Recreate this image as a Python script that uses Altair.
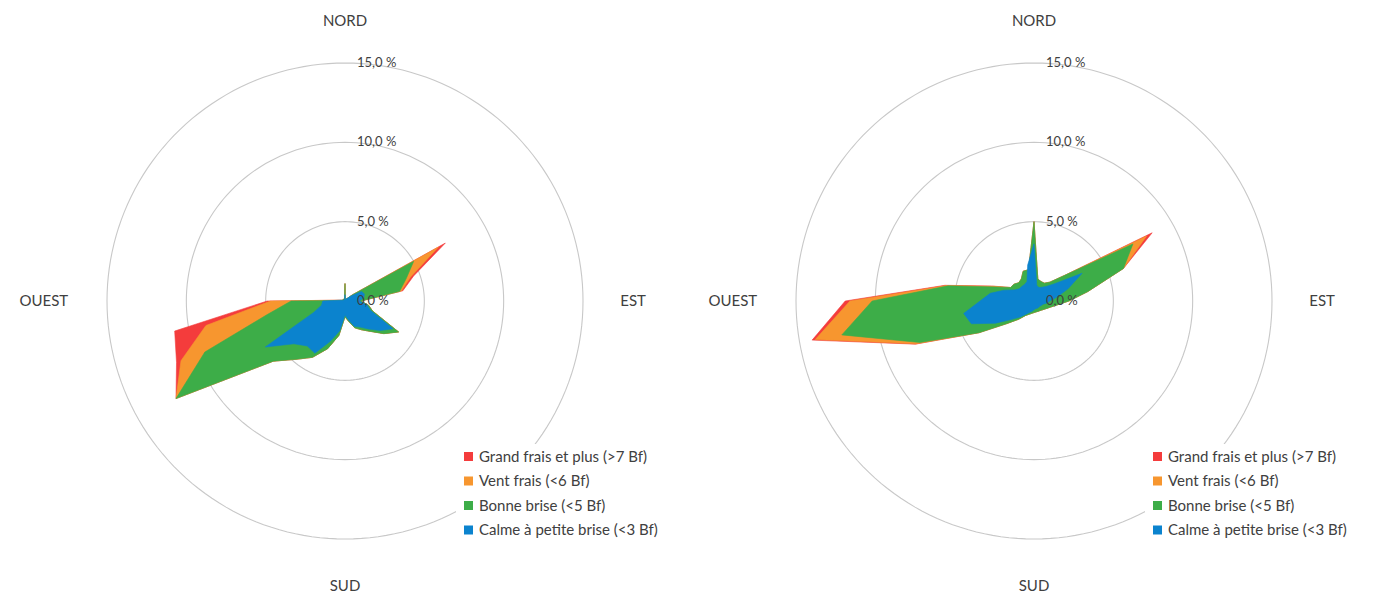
import altair as alt
import pandas as pd

# ---------------- data (cumulative values as plotted, %) ----------------
angles = list(range(0, 360, 10))  # 0 = Nord, clockwise

series_names = [
    "Grand frais et plus (>7 Bf)",
    "Vent frais (<6 Bf)",
    "Bonne brise (<5 Bf)",
    "Calme à petite brise (<3 Bf)",
]
series_colors = ["#F43C3C", "#F7962F", "#3DAD48", "#0B83CE"]

# left rose
left_calme = [0.4, 0.1, 0.1, 0.15, 0.2, 0.5, 1.2, 1.3, 1.2, 0.9, 1.4, 1.7,
              3.5, 2.9, 2.3, 1.9, 1.7, 1.2, 0.9, 1.9, 2.7, 3.8, 3.7, 4.2,
              5.8, 2.1, 1.5, 1.4, 0.3, 0.15, 0.1, 0.1, 0.1, 0.1, 0.1, 0.15]
left_bonne = [1.1, 0.1, 0.1, 0.15, 0.2, 0.6, 5.0, 4.1, 3.5, 1.0, 1.5, 1.85,
              3.9, 3.2, 2.5, 2.1, 1.8, 1.3, 1.0, 2.2, 3.2, 4.1, 4.8, 5.9,
              12.3, 9.4, 5.0, 3.4, 0.2, 0.15, 0.15, 0.15, 0.15, 0.15, 0.15, 0.15]
left_vent = [1.1, 0.1, 0.1, 0.15, 0.2, 0.6, 6.8, 4.4, 3.6, 1.0, 1.5, 1.85,
             3.9, 3.2, 2.5, 2.1, 1.8, 1.3, 1.0, 2.2, 3.2, 4.1, 4.8, 5.9,
             12.3, 11.0, 8.9, 4.7, 0.3, 0.15, 0.15, 0.15, 0.15, 0.15, 0.15, 0.15]
left_grand = [1.1, 0.1, 0.1, 0.15, 0.2, 0.6, 7.3, 4.6, 3.7, 1.0, 1.5, 1.85,
              3.9, 3.2, 2.5, 2.1, 1.8, 1.3, 1.0, 2.2, 3.2, 4.1, 4.8, 5.9,
              12.3, 11.3, 10.9, 4.9, 0.3, 0.15, 0.15, 0.15, 0.15, 0.15, 0.15, 0.15]

# right rose
right_calme = [3.6, 1.0, 0.9, 1.0, 1.2, 1.7, 3.5, 2.3, 1.5, 1.0, 0.8, 0.6,
               0.55, 0.5, 0.5, 0.5, 0.5, 0.5, 0.55, 0.65, 0.75, 0.95, 1.3, 1.8,
               2.8, 4.2, 4.5, 3.4, 2.8, 2.0, 1.4, 1.2, 1.2, 1.2, 1.3, 2.3]
right_bonne = [5.0, 1.4, 1.3, 1.3, 1.55, 2.5, 7.2, 6.0, 3.45, 2.2, 1.46, 1.12,
               0.93, 0.82, 0.75, 0.71, 0.7, 0.7, 0.73, 0.79, 0.89, 1.05, 1.5, 2.2,
               4.0, 7.65, 12.3, 10.2, 5.5, 2.6, 1.7, 1.65, 1.5, 1.6, 2.0, 2.0]
right_vent = [5.0, 1.4, 1.3, 1.3, 1.55, 2.5, 8.2, 6.0, 3.45, 2.2, 1.46, 1.12,
              0.93, 0.82, 0.75, 0.71, 0.7, 0.7, 0.73, 0.79, 0.89, 1.05, 1.5, 2.2,
              4.0, 7.9, 14.0, 11.6, 5.6, 2.7, 1.7, 1.65, 1.5, 1.6, 2.0, 2.0]
right_grand = [5.0, 1.4, 1.3, 1.3, 1.55, 2.5, 8.6, 6.0, 3.45, 2.2, 1.46, 1.12,
               0.93, 0.82, 0.75, 0.71, 0.7, 0.7, 0.73, 0.79, 0.89, 1.05, 1.5, 2.2,
               4.0, 7.95, 14.2, 11.9, 5.7, 2.75, 1.7, 1.65, 1.5, 1.6, 2.0, 2.0]

ring_values = [5, 10, 15]
tick_values = [0, 5, 10, 15]
tick_labels = ["0,0 %", "5,0 %", "10,0 %", "15,0 %"]
dir_names = ["NORD", "EST", "SUD", "OUEST"]
dir_angles = [0, 90, 180, 270]

# ---------------- layout ----------------
PX = 238 / 15.0          # pixels per percent
W, H = 664, 574
xh = (W / 2) / PX
yh = (H / 2) / PX
xs = alt.Scale(domain=[-xh, xh], nice=False, zero=False)
ys = alt.Scale(domain=[-yh, yh], nice=False, zero=False)
cscale = alt.Scale(domain=series_names, range=series_colors)
FONT = "Lato"
TXT = "#404040"

grid_df = pd.DataFrame(
    [{"r": r, "a": a} for r in ring_values for a in range(0, 360, 2)]
)
tick_df = pd.DataFrame({"v": tick_values, "label": tick_labels})


def xy(chart, rfield, afield):
    return chart.transform_calculate(
        px=f"datum.{rfield}*sin(datum.{afield}*PI/180)",
        py=f"datum.{rfield}*cos(datum.{afield}*PI/180)",
    )


def panel(series_lists):
    rows = []
    for name, vals in zip(series_names, series_lists):
        for a, v in zip(angles, vals):
            rows.append({"series": name, "angle": a, "value": v})
    df = pd.DataFrame(rows)

    X = alt.X("px:Q", scale=xs, axis=None)
    Y = alt.Y("py:Q", scale=ys, axis=None)

    grid = xy(alt.Chart(grid_df), "r", "a").mark_line(
        interpolate="linear-closed", color="#C8C8C8", strokeWidth=1.1
    ).encode(x=X, y=Y, detail="r:N", order="a:Q")

    leg = alt.Legend(
        title=None, orient="none", legendX=443, legendY=430,
        symbolType="square", symbolSize=81, symbolStrokeWidth=0,
        labelFont=FONT, labelFontSize=15, labelColor=TXT, labelOffset=3,
        labelLimit=400, rowPadding=8.5, padding=5, fillColor="white",
    )

    layers = [grid]
    for name in series_names:  # red first, blue last (on top)
        lay = xy(alt.Chart(df).transform_filter(alt.datum.series == name),
                 "value", "angle").mark_line(
            interpolate="linear-closed", strokeWidth=0.6
        ).encode(
            x=X, y=Y, order=alt.Order("angle:Q"),
            fill=alt.Fill("series:N", scale=cscale, legend=leg),
            stroke=alt.Stroke("series:N", scale=cscale, legend=None),
        )
        layers.append(lay)

    ticks = alt.Chart(tick_df).transform_calculate(px="0", py="datum.v").mark_text(
        align="left", baseline="middle", dx=12, font=FONT, fontSize=13, color=TXT
    ).encode(x=X, y=Y, text="label:N")
    layers.append(ticks)

    styles = {0: ("center", 17.65), 90: ("left", 17.35),
              180: ("center", 17.95), 270: ("right", 17.45)}
    for name, ang in zip(dir_names, dir_angles):
        al, rr = styles[ang]
        d = pd.DataFrame({"name": [name], "ang": [ang], "rr": [rr]})
        t = xy(alt.Chart(d), "rr", "ang").mark_text(
            align=al, baseline="middle", font=FONT, fontSize=15, color=TXT
        ).encode(x=X, y=Y, text="name:N")
        layers.append(t)

    return alt.layer(*layers).properties(width=W, height=H)


left = panel([left_grand, left_vent, left_bonne, left_calme])
right = panel([right_grand, right_vent, right_bonne, right_calme])

chart = alt.hconcat(left, right, spacing=25).resolve_scale(
    fill="independent", stroke="independent"
).resolve_legend(
    fill="independent", stroke="independent"
).configure_view(stroke=None).properties(background="white")

chart.save("out.html", embed_options={"renderer": "svg", "actions": False})
